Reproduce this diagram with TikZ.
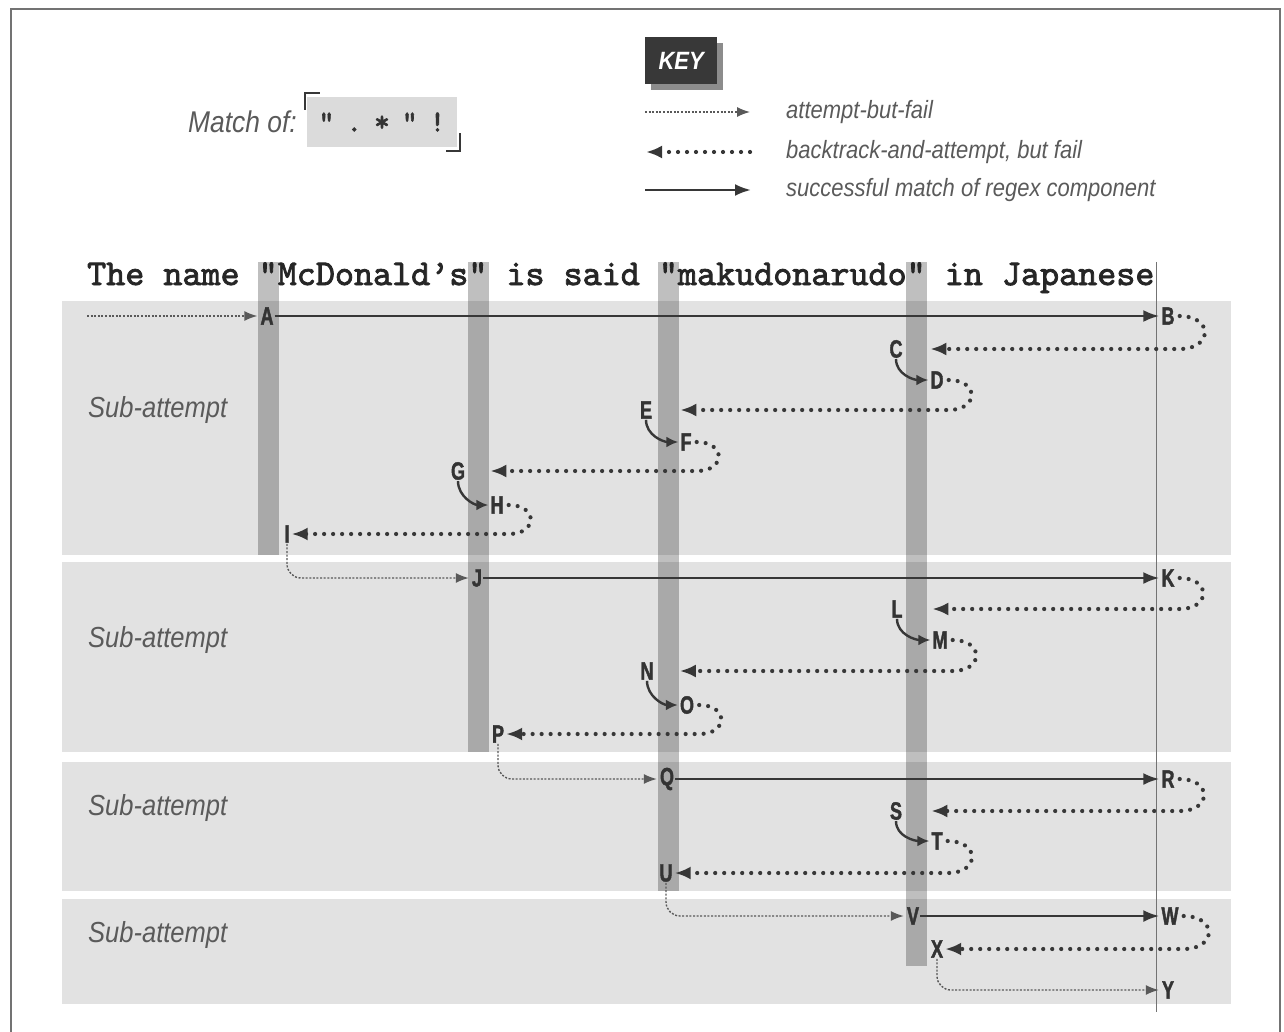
\documentclass[tikz,border=0pt]{standalone}
\usepackage{fontspec}
\newfontfamily\notefont[FakeStretch=0.88]{Liberation Sans}
\newfontfamily\letterfont[FakeStretch=0.72,FakeBold=1.6]{Liberation Sans Bold}
\newfontfamily\phrasefont{lmmono10-regular}[Extension=.otf,FakeBold=2.2]
\definecolor{PanelGray}{RGB}{226,226,226}
\definecolor{InkGray}  {RGB}{55,55,55}
\definecolor{NoteGray} {RGB}{90,90,90}
\usetikzlibrary{arrows.meta,calc}

\begin{document}
\begin{tikzpicture}[x=1pt,y=-1pt,
  panel/.style={fill=PanelGray},
  charbar/.style={fill=black,opacity=0.25},
  lbl/.style={font=\letterfont\fontsize{25}{25}\selectfont,text=black!80,inner sep=1pt},
  note/.style={font=\notefont\itshape\fontsize{29}{29}\selectfont,text=NoteGray,inner sep=0pt},
  keynote/.style={font=\notefont\itshape\fontsize{25}{25}\selectfont,text=NoteGray,inner sep=0pt},
  matchline/.style={draw=InkGray,line width=2.6pt,-{Latex[length=16pt,width=12pt]},shorten >=1pt},
  backline/.style={draw=InkGray,line width=4.2pt,line cap=round,dash pattern=on 0pt off 9pt,
                   -{Latex[length=16pt,width=13pt]},shorten >=1pt},
  failline/.style={draw=black!65,line width=1.4pt,dash pattern=on 2pt off 1.6pt,
                   -{Latex[length=13pt,width=10pt]},shorten >=2pt},
  curlline/.style={draw=InkGray,line width=2.4pt,-{Latex[length=12pt,width=11pt]},shorten >=1pt}]
  \useasboundingbox (0,0) rectangle (1284,1032);
  \draw[black!55,line width=2pt] (11,1032) -- (11,9) -- (1280,9) -- (1280,1032);

  % title and key
  \node[note,font=\notefont\itshape\fontsize{30}{30}\selectfont,anchor=base east] (matchof) at (297,133) {Match of:};
  \node[fill=black!14,minimum width=150pt,minimum height=50pt,inner sep=0pt,text=black!80,
        font=\phrasefont\fontsize{30}{30}\selectfont] (regex) at (382,122)
    {"\hspace{12pt}.\hspace{12pt}*\hspace{12pt}"\hspace{12pt}!};
  \draw[InkGray,line width=1.8pt] ([shift={(-2,13)}]regex.north west) -- ([shift={(-2,-4)}]regex.north west)
    -- ([shift={(13,-4)}]regex.north west);
  \draw[InkGray,line width=1.8pt] ([shift={(3,-14)}]regex.south east) -- ([shift={(3,4)}]regex.south east)
    -- ([shift={(-11,4)}]regex.south east);

  \fill[black!45] (651,43) rectangle (723,90);
  \node[fill=black!78,minimum width=72pt,minimum height=47pt,inner sep=0pt,anchor=north west,text=white,
        font=\notefont\bfseries\itshape\fontsize{25}{25}\selectfont] (key) at (645,37) {KEY};

  \coordinate (k1) at (645,112); \coordinate (k1e) at (752,112);
  \coordinate (k2) at (645,152); \coordinate (k2e) at (750,152);
  \coordinate (k3) at (645,190); \coordinate (k3e) at (752,190);
  \draw[failline] (k1) -- (k1e);
  \draw[backline] (k2e) -- (k2);
  \draw[matchline] (k3) -- (k3e);
  \node[keynote,anchor=west] (keyfail)  at (786,112) {attempt-but-fail};
  \node[keynote,anchor=west] (keyback)  at (786,152) {backtrack-and-attempt, but fail};
  \node[keynote,anchor=west] (keymatch) at (786,190) {successful match of regex component};

  % sub-attempt panels and character columns
  \foreach \ya/\yb in {301/555,562/752,762/891,899/1004}
    \fill[panel] (62,\ya) rectangle (1231,\yb);
  \foreach \x/\yb in {268/555,478/752,668/891,916/966}
    \fill[charbar] (\x-10.5,262) rectangle (\x+10.5,\yb);
  \draw[black!55,line width=1pt] (1156,262) -- (1156,1012);

  \node[anchor=base west,inner sep=0pt,text=black!85,font=\phrasefont\fontsize{36.3}{36.3}\selectfont]
    (phrase) at (87,285) {The name "McDonald’s" is said "makudonarudo" in Japanese};
  \foreach \y [count=\i] in {410,640,808,935}
    \node[note,anchor=west] (sub\i) at (88,\y) {Sub-attempt};

  % positions
  \foreach \n/\x/\y in {A/267/316, B/1168/316, C/896/349, D/937/380, E/646/410, F/686/442,
      G/458/471, H/497/505, I/287/534, J/477/578, K/1168/578, L/897/609, M/940/640,
      N/647/671, O/687/705, P/498/734, Q/667/779, R/1168/779, S/896/811, T/937/841,
      U/666/873, V/913/916, W/1170/916, X/937/949, Y/1168/990}
    \node[lbl] (\n) at (\x,\y) {\n};

  % connectors
  \coordinate (entry) at (87,316);
  \draw[failline] (entry) -- (A.west);
  \foreach \a/\b in {A/B,J/K,Q/R,V/W}
    \draw[matchline] (\a.east) -- (\b.west);
  \foreach \s/\t/\u in {B/C/D,D/E/F,F/G/H,K/L/M,M/N/O,R/S/T}
    \draw[backline] ([xshift=4pt]\s.east) to[out=0,in=0,looseness=2.6] ($(\s.east |- \t)+(4,0)$) -- (\t -| \u.west);
  \foreach \s/\t in {H/I,O/P,T/U,W/X}
    \draw[backline] ([xshift=4pt]\s.east) to[out=0,in=0,looseness=2.6] ($(\s.east |- \t)+(4,0)$) -- (\t.east);
  \foreach \t/\u in {C/D,E/F,G/H,L/M,N/O,S/T}
    \draw[curlline] (\t.south) to[out=-90,in=180] (\u.west);
  \foreach \s/\t in {I/J,P/Q,U/V,X/Y}
    \draw[failline,rounded corners=14pt] (\s.south) |- (\t.west);
\end{tikzpicture}
\end{document}
